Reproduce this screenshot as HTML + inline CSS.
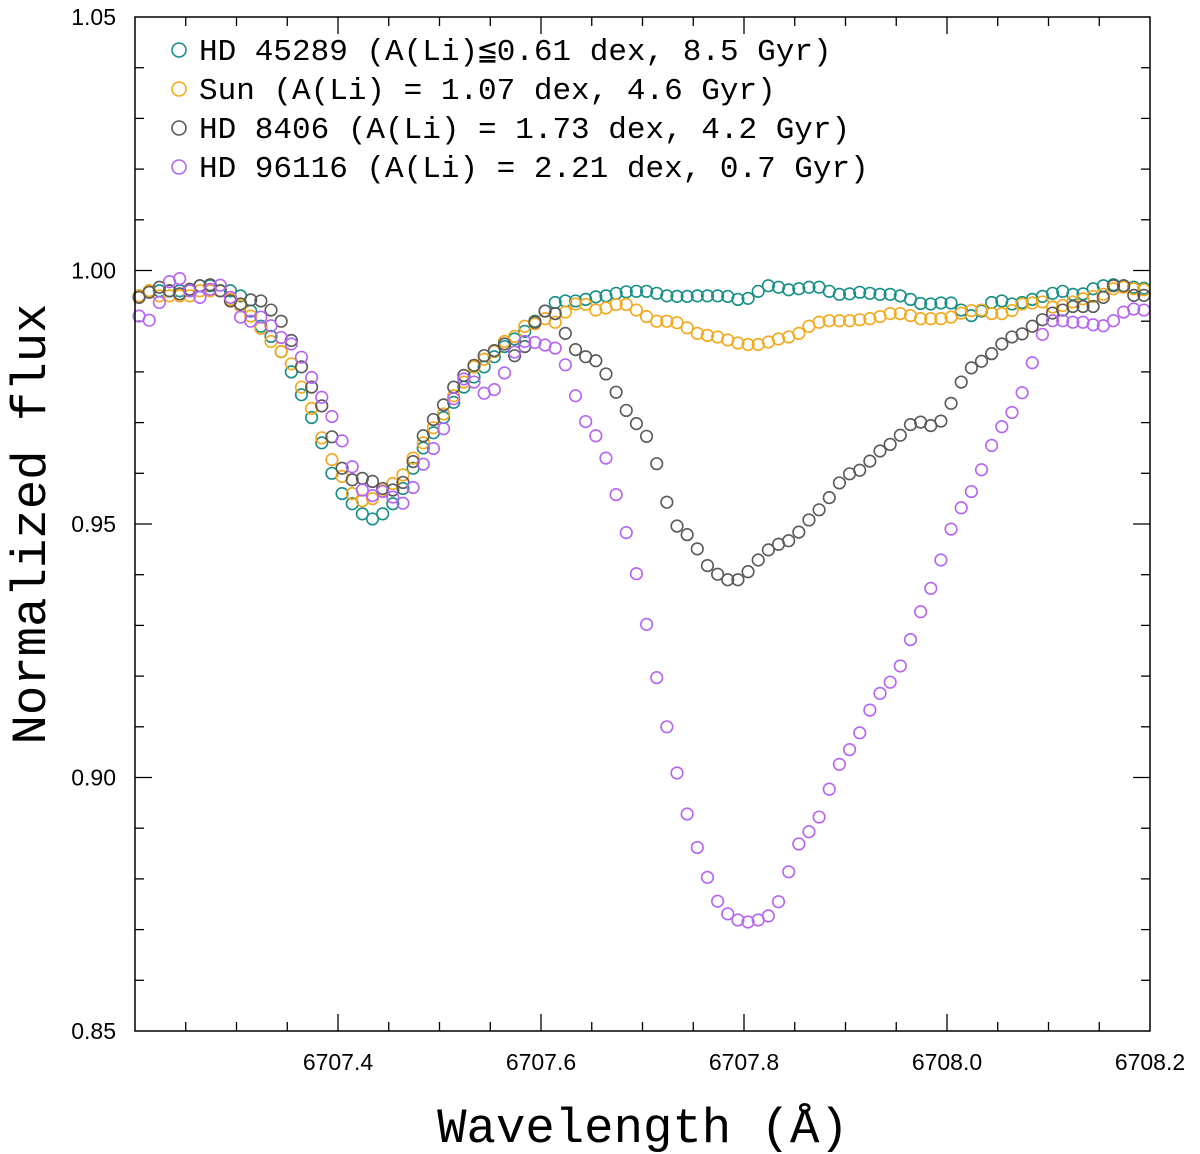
<!DOCTYPE html>
<html><head><meta charset="utf-8"><style>
html,body{margin:0;padding:0;background:#fff;}
svg{display:block;}
</style></head><body>
<svg id="chart" width="1200" height="1154" viewBox="0 0 1200 1154" xmlns="http://www.w3.org/2000/svg">
<rect x="0" y="0" width="1200" height="1154" fill="#fff"/>
<g id="ticks"></g>
<g id="marks"></g>
<rect x="135" y="17" width="1015" height="1014" fill="none" stroke="#000" stroke-width="1.5"/>
<g id="legend" font-family="'Liberation Mono', monospace" font-size="31" fill="#000"></g>
<text transform="translate(45,524) rotate(-90)" text-anchor="middle" font-family="'Liberation Mono', monospace" font-size="49" fill="#000">Normalized flux</text>
<text x="643" y="1142" text-anchor="middle" font-family="'Liberation Mono', monospace" font-size="49" fill="#000">Wavelength (Å)</text>
</svg>
<script>
const wlStart = 6707.204;
const wlStep = 0.01;
const xTickLabels = ["6707.4","6707.6","6707.8","6708.0","6708.2"];
const xTickValues = [6707.4,6707.6,6707.8,6708.0,6708.2];
const yTickLabels = ["0.85","0.90","0.95","1.00","1.05"];
const yTickValues = [0.85,0.90,0.95,1.00,1.05];
const seriesNames = ["HD 45289 (A(Li)≦0.61 dex, 8.5 Gyr)","Sun (A(Li) = 1.07 dex, 4.6 Gyr)","HD 8406 (A(Li) = 1.73 dex, 4.2 Gyr)","HD 96116 (A(Li) = 2.21 dex, 0.7 Gyr)"];
const fluxHD45289 = [0.995,0.996,0.996,0.996,0.996,0.996,0.997,0.997,0.996,0.996,0.995,0.992,0.989,0.987,0.984,0.980,0.9755,0.971,0.966,0.960,0.956,0.954,0.952,0.951,0.952,0.954,0.957,0.961,0.965,0.968,0.971,0.974,0.977,0.979,0.981,0.983,0.985,0.9865,0.988,0.990,0.992,
0.9937,0.994,0.994,0.9943,0.9948,0.995,0.9955,0.9958,0.9959,0.9959,0.9955,0.995,0.9949,0.9949,0.995,0.995,0.995,0.9949,0.9943,0.9945,0.9959,0.997,0.9967,0.9962,0.9964,0.9967,0.9967,0.9959,0.9953,0.9954,0.9957,0.9955,0.9953,0.9953,0.995,0.9943,0.9935,0.9934,0.9936,0.9936,0.9922,0.9911,0.992,0.9937,0.994,0.9934,0.9937,0.9943,0.9949,0.9955,0.9959,0.9953,0.9954,0.9964,0.997,0.9972,0.997,0.9967,0.9965];
const fluxSun = [0.995,0.996,0.995,0.995,0.995,0.995,0.996,0.996,0.996,0.9943,0.993,0.991,0.9886,0.986,0.984,0.9816,0.977,0.9728,0.967,0.9627,0.9594,0.956,0.9546,0.955,0.9566,0.958,0.9597,0.963,0.966,0.969,0.9717,0.9753,0.978,0.981,0.9825,0.984,0.986,0.987,0.989,0.9895,0.9905,
0.9898,0.9918,0.9934,0.9933,0.9922,0.9926,0.9933,0.9933,0.9922,0.9909,0.99,0.99,0.9897,0.9887,0.9876,0.9872,0.9869,0.9863,0.9857,0.9854,0.9854,0.9859,0.9865,0.9869,0.9876,0.989,0.9898,0.9901,0.9901,0.9901,0.9903,0.9905,0.9909,0.9915,0.9915,0.9911,0.9905,0.9905,0.9905,0.9908,0.9916,0.9921,0.9922,0.9915,0.9915,0.9921,0.9934,0.9936,0.9938,0.9928,0.9931,0.9938,0.9944,0.9949,0.9953,0.9964,0.9967,0.9964,0.9962];
const fluxHD8406 = [0.9947,0.9957,0.9967,0.996,0.9954,0.9963,0.997,0.9972,0.996,0.994,0.9934,0.9942,0.994,0.9922,0.99,0.9862,0.981,0.977,0.9733,0.9672,0.961,0.9587,0.959,0.9584,0.957,0.9567,0.9582,0.9623,0.9674,0.9706,0.9735,0.977,0.9793,0.9813,0.9832,0.9842,0.9855,0.9832,0.985,0.9898,0.992,
0.9915,0.9876,0.9844,0.983,0.9822,0.9796,0.976,0.9724,0.9698,0.9673,0.9619,0.9543,0.9496,0.9479,0.9451,0.9418,0.9401,0.939,0.939,0.9406,0.9429,0.9449,0.946,0.9467,0.9484,0.9508,0.9528,0.9552,0.9581,0.9599,0.9606,0.9624,0.9644,0.9657,0.9675,0.9696,0.9701,0.9694,0.9703,0.9738,0.978,0.9808,0.9821,0.9836,0.9855,0.9869,0.9875,0.989,0.9903,0.9916,0.9922,0.9929,0.9929,0.9929,0.9947,0.997,0.997,0.9951,0.9951];
const fluxHD96116 = [0.991,0.9902,0.9937,0.9978,0.9984,0.996,0.9947,0.9963,0.9971,0.9947,0.9908,0.99,0.9908,0.9891,0.9868,0.9855,0.9829,0.9789,0.975,0.9712,0.9664,0.9613,0.9567,0.9556,0.9564,0.9553,0.9541,0.9572,0.9618,0.9649,0.9688,0.9747,0.9786,0.978,0.9758,0.9765,0.9798,0.9839,0.986,0.9858,0.9853,
0.9847,0.9814,0.9753,0.9702,0.9674,0.963,0.9558,0.9483,0.9402,0.9302,0.9197,0.91,0.9009,0.8928,0.8862,0.8803,0.8756,0.8731,0.8719,0.8715,0.8719,0.8727,0.8755,0.8814,0.8869,0.8893,0.8922,0.8977,0.9026,0.9055,0.9088,0.9133,0.9166,0.9188,0.922,0.9272,0.9327,0.9373,0.9429,0.949,0.9532,0.9564,0.9607,0.9655,0.9692,0.972,0.9759,0.9818,0.9874,0.9901,0.9901,0.9898,0.9898,0.9893,0.9891,0.9901,0.9918,0.9924,0.9922];
const seriesColors = ["#168f86","#f5a81c","#5a5a5a","#b565f5"];
const seriesKeys = ["hd45289","sun","hd8406","hd96116"];

const NS = "http://www.w3.org/2000/svg";
const L = 135, R = 1150, T = 17, B = 1031;
const xMin = 6707.2, xMax = 6708.2, yMin = 0.85, yMax = 1.05;
function xs(v){ return L + (v - xMin) / (xMax - xMin) * (R - L); }
function ys(v){ return B - (v - yMin) / (yMax - yMin) * (B - T); }
function mk(tag, attrs){ const e = document.createElementNS(NS, tag); for (const k in attrs) e.setAttribute(k, attrs[k]); return e; }

const ticks = document.getElementById('ticks');
for (let k = 1; k < 20; k++) {
  const v = xMin + k * 0.05;
  const major = (k % 4 === 0);
  const len = major ? 17 : 9;
  const x = xs(v);
  const t1 = mk('line', {x1:x, y1:B, x2:x, y2:B-len, stroke:'#000', 'stroke-width':1.3});
  
  
  ticks.appendChild(t1);
  const t2 = mk('line', {x1:x, y1:T, x2:x, y2:T+len, stroke:'#000', 'stroke-width':1.3});
  
  
  ticks.appendChild(t2);
}
xTickValues.forEach((v, i) => {
  const t = mk('text', {x: xs(v), y: 1070, 'text-anchor':'middle', 'font-family':"'Liberation Sans', sans-serif", 'font-size':23, fill:'#000'});
  t.textContent = xTickLabels[i];
  
  
  ticks.appendChild(t);
});
for (let k = 1; k < 20; k++) {
  const v = yMin + k * 0.01;
  const major = (k % 5 === 0);
  const len = major ? 17 : 9;
  const y = ys(v);
  const t1 = mk('line', {x1:L, y1:y, x2:L+len, y2:y, stroke:'#000', 'stroke-width':1.3});
  
  
  ticks.appendChild(t1);
  const t2 = mk('line', {x1:R, y1:y, x2:R-len, y2:y, stroke:'#000', 'stroke-width':1.3});
  
  
  ticks.appendChild(t2);
}
yTickValues.forEach((v, i) => {
  const t = mk('text', {x: 116, y: ys(v) + 8, 'text-anchor':'end', 'font-family':"'Liberation Sans', sans-serif", 'font-size':23, fill:'#000'});
  t.textContent = yTickLabels[i];
  
  
  ticks.appendChild(t);
});

const marks = document.getElementById('marks');
const allSeries = [fluxHD45289, fluxSun, fluxHD8406, fluxHD96116];
allSeries.forEach((arr, s) => {
  const g = mk('g', {fill:'none', stroke: seriesColors[s], 'stroke-width': 1.6});
  
  
  arr.forEach((f, i) => {
    const w = wlStart + i * wlStep;
    const c = mk('circle', {cx: xs(w).toFixed(2), cy: ys(f).toFixed(2), r: 5.8});
    
    
    g.appendChild(c);
  });
  marks.appendChild(g);
});

const legend = document.getElementById('legend');
const legendY = [50, 89, 128, 167];
seriesNames.forEach((name, s) => {
  const g = mk('g', {});
  
  
  const c = mk('circle', {cx: 179, cy: legendY[s], r: 7, fill:'none', stroke: seriesColors[s], 'stroke-width': 1.6});
  
  
  g.appendChild(c);
  const t = mk('text', {x: 199, y: legendY[s] + 10});
  t.textContent = name;
  
  
  g.appendChild(t);
  legend.appendChild(g);
});
</script>
</body></html>
